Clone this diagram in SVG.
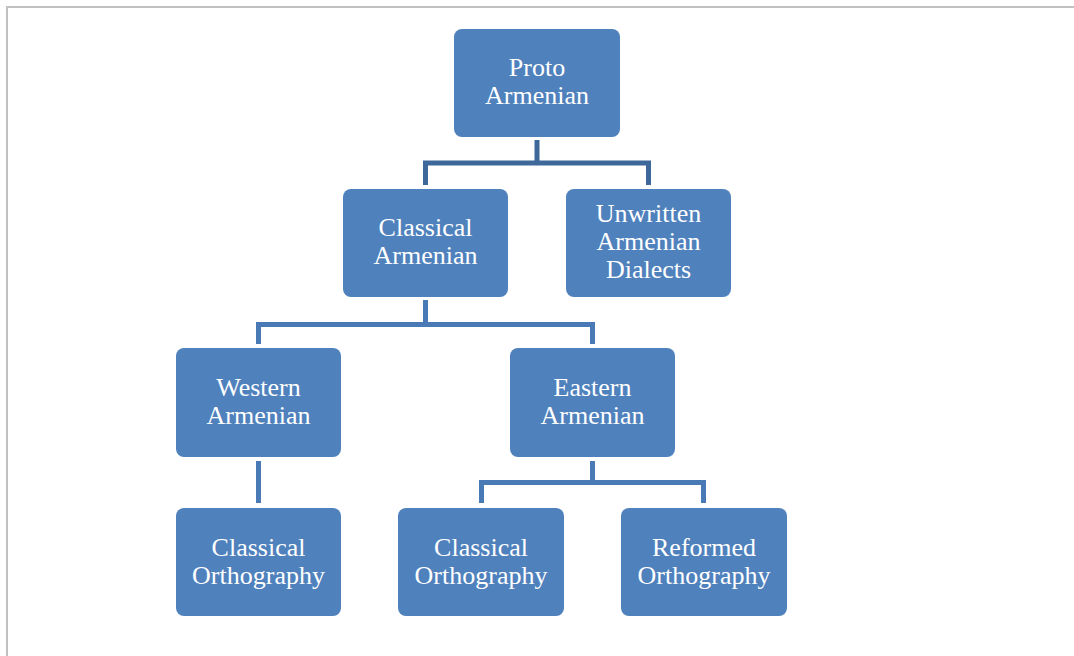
<svg xmlns="http://www.w3.org/2000/svg" width="1074" height="656" viewBox="0 0 1074 656">
<style>
.node{fill:#4f81bd}
.t{font-family:"Liberation Serif","Times New Roman",serif;font-size:26px;fill:#ffffff;text-anchor:middle}
.c{fill:none;stroke:#4a7ab5;stroke-width:5;stroke-linejoin:miter}
.c0{stroke:#3d6899}
.frame{stroke:#c0c0c0;stroke-width:2;fill:none}
</style>
<rect width="1074" height="656" fill="#ffffff"/>
<path class="frame" d="M7 656 V7 H1074"/>
<g id="connectors">
<path class="c c0" d="M537 140 V163 M425.5 185 V163 H648.5 V185"/>
<path class="c" d="M425.5 300 V324.5 M258.5 344 V324.5 H592.5 V344"/>
<path class="c" d="M258.5 461 V503"/>
<path class="c" d="M592.5 461 V482.5 M481.5 503 V482.5 H703.5 V503"/>
</g>
<g id="proto">
<rect class="node" x="454" y="29" width="166" height="108" rx="8"/>
<text class="t" x="537" y="76">Proto</text>
<text class="t" x="537" y="104">Armenian</text>
</g>
<g id="classical-armenian">
<rect class="node" x="343" y="189" width="165" height="108" rx="8"/>
<text class="t" x="425.5" y="236">Classical</text>
<text class="t" x="425.5" y="264">Armenian</text>
</g>
<g id="unwritten">
<rect class="node" x="566" y="189" width="165" height="108" rx="8"/>
<text class="t" x="648.5" y="222">Unwritten</text>
<text class="t" x="648.5" y="250">Armenian</text>
<text class="t" x="648.5" y="278">Dialects</text>
</g>
<g id="western">
<rect class="node" x="176" y="348" width="165" height="109" rx="8"/>
<text class="t" x="258.5" y="396">Western</text>
<text class="t" x="258.5" y="424">Armenian</text>
</g>
<g id="eastern">
<rect class="node" x="510" y="348" width="165" height="109" rx="8"/>
<text class="t" x="592.5" y="396">Eastern</text>
<text class="t" x="592.5" y="424">Armenian</text>
</g>
<g id="western-classical">
<rect class="node" x="176" y="508" width="165" height="108" rx="8"/>
<text class="t" x="258.5" y="556">Classical</text>
<text class="t" x="258.5" y="584">Orthography</text>
</g>
<g id="eastern-classical">
<rect class="node" x="398" y="508" width="166" height="108" rx="8"/>
<text class="t" x="481" y="556">Classical</text>
<text class="t" x="481" y="584">Orthography</text>
</g>
<g id="reformed">
<rect class="node" x="621" y="508" width="166" height="108" rx="8"/>
<text class="t" x="704" y="556">Reformed</text>
<text class="t" x="704" y="584">Orthography</text>
</g>
</svg>
